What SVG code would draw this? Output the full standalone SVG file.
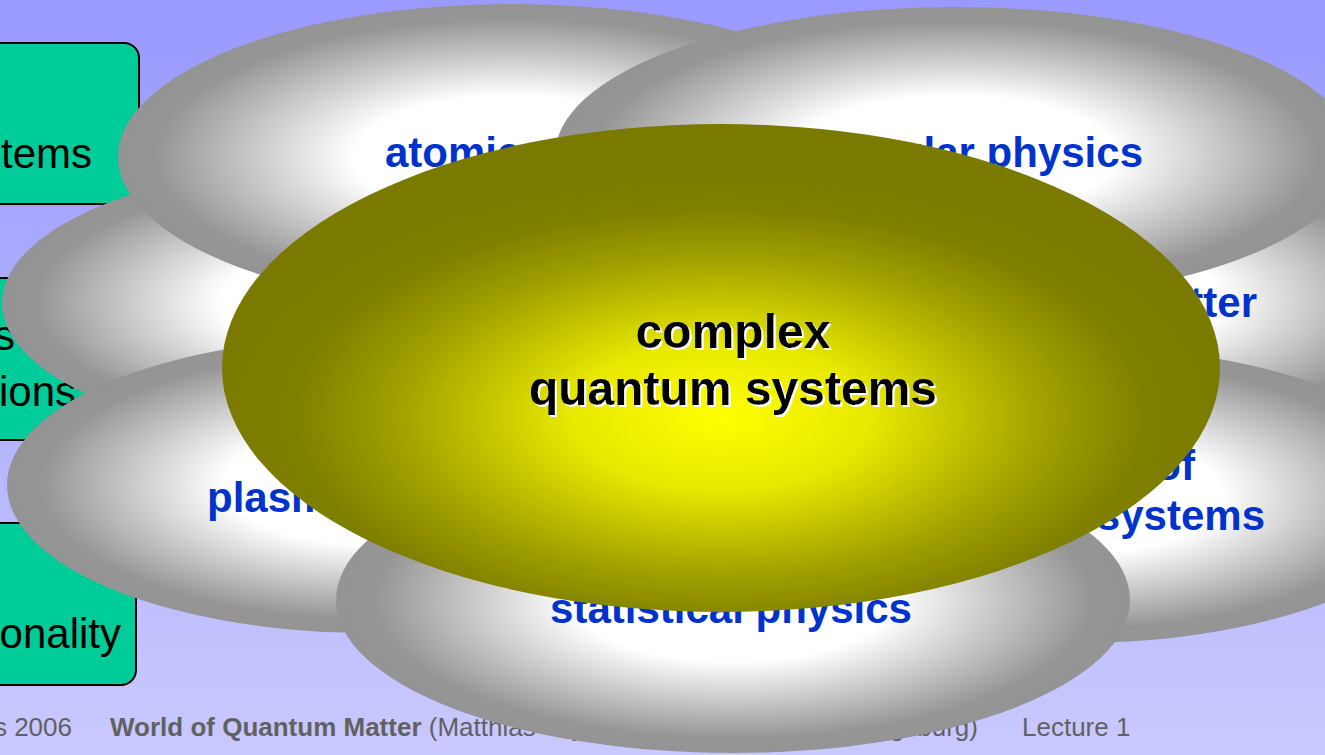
<svg xmlns="http://www.w3.org/2000/svg" width="1325" height="755" viewBox="0 0 1325 755">
<defs>
<style>
.box{fill:#00cc99;stroke:#000;stroke-width:2}
.btxt{font-family:"Liberation Sans",Arial,sans-serif;font-size:42px;fill:#000;text-anchor:end}
.lbl{font-family:"Liberation Sans",Arial,sans-serif;font-size:42px;font-weight:bold;fill:#0033cc}
.ctr{font-family:"Liberation Sans",Arial,sans-serif;font-size:48px;font-weight:bold;fill:#000;text-anchor:middle}
.foot{font-family:"Liberation Sans",Arial,sans-serif;font-size:26px;fill:#616161}
.grey{fill:url(#greyGrad)}
</style>
<linearGradient id="bgGrad" x1="0" y1="0" x2="0" y2="1">
<stop offset="0" stop-color="#9999ff"/>
<stop offset="1" stop-color="#c9c9ff"/>
</linearGradient>
<radialGradient id="greyGrad" cx="50%" cy="50%" r="50%">
<stop offset="0" stop-color="#ffffff"/>
<stop offset="0.4" stop-color="#ffffff"/>
<stop offset="0.9" stop-color="#969696"/>
<stop offset="1" stop-color="#949494"/>
</radialGradient>
<radialGradient id="oliveGrad" cx="50%" cy="60%" r="50%">
<stop offset="0" stop-color="#ffff00"/>
<stop offset="0.3" stop-color="#e8e800"/>
<stop offset="0.65" stop-color="#a0a000"/>
<stop offset="0.85" stop-color="#808000"/>
<stop offset="1" stop-color="#7a7a00"/>
</radialGradient>
<filter id="wshadow" x="-5%" y="-30%" width="110%" height="160%">
<feOffset in="SourceAlpha" dx="2" dy="2" result="off"/>
<feFlood flood-color="#ffffff"/>
<feComposite in2="off" operator="in" result="sh"/>
<feMerge><feMergeNode in="sh"/><feMergeNode in="SourceGraphic"/></feMerge>
</filter>
</defs>

<rect id="background" x="0" y="0" width="1325" height="755" fill="url(#bgGrad)"/>

<g id="footer">
<text class="foot" x="72" y="736" text-anchor="end">s 2006</text>
<text class="foot" x="110" y="736"><tspan font-weight="bold">World of Quantum Matter</tspan> (Matthias Vojta, Universität <tspan x="858">Augsburg)</tspan></text>
<text class="foot" x="1022" y="736">Lecture 1</text>
</g>

<g id="box-systems">
<rect class="box" x="-30" y="43" width="169" height="161" rx="15"/>
<text class="btxt" x="92" y="168">systems</text>
</g>
<g id="box-interactions">
<rect class="box" x="-30" y="278" width="170" height="162" rx="15"/>
<text class="btxt" x="15" y="350">many particles</text>
<text class="btxt" x="76" y="406">interactions</text>
</g>
<g id="box-dimensionality">
<rect class="box" x="-30" y="523" width="166" height="162" rx="15"/>
<text class="btxt" x="121" y="648">dimensionality</text>
</g>

<g id="connectors"></g>

<g id="node-left">
<ellipse class="grey" cx="366" cy="303" rx="364" ry="142"/>
</g>
<g id="node-condensed-matter">
<ellipse class="grey" cx="1076" cy="300" rx="364" ry="142"/>
<text class="lbl" x="1257" y="317" text-anchor="end">condensed matter</text>
</g>
<g id="node-atomic-physics">
<ellipse class="grey" cx="512" cy="157" rx="394" ry="153"/>
<text class="lbl" x="385" y="167">atomic physics</text>
</g>
<g id="node-molecular-physics">
<ellipse class="grey" cx="955" cy="155" rx="400" ry="148"/>
<text class="lbl" x="1143" y="167" text-anchor="end">molecular physics</text>
</g>
<g id="node-plasma-physics">
<ellipse class="grey" cx="370" cy="485" rx="363" ry="148"/>
<text class="lbl" x="207" y="512">plasma physics</text>
</g>
<g id="node-mesoscopic-systems">
<ellipse class="grey" cx="1076" cy="495" rx="363" ry="148"/>
<text class="lbl" text-anchor="end"><tspan x="1195" y="480">physics of</tspan><tspan x="1265" y="530">mesoscopic systems</tspan></text>
</g>
<g id="node-statistical-physics">
<ellipse class="grey" cx="733" cy="600" rx="397" ry="153"/>
<text class="lbl" x="731" y="623" text-anchor="middle">statistical physics</text>
</g>
<g id="node-complex-quantum-systems">
<ellipse cx="721" cy="368" rx="499" ry="244" fill="url(#oliveGrad)"/>
<text class="ctr" filter="url(#wshadow)"><tspan x="733" y="348">complex</tspan><tspan x="733" y="405">quantum systems</tspan></text>
</g>
</svg>
